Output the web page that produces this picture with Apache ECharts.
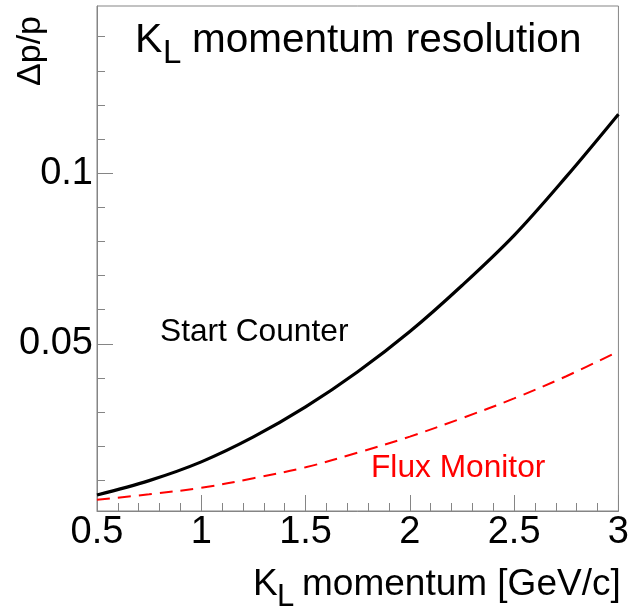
<!DOCTYPE html>
<html>
<head>
<meta charset="utf-8">
<title>KL momentum resolution</title>
<script src="https://cdn.jsdelivr.net/npm/echarts@6/dist/echarts.min.js"></script>
<style>
  html, body { margin: 0; padding: 0; background: #fff; }
  #chart { width: 632px; height: 614px; }
</style>
</head>
<body>
<div id="chart"></div>
<script>
// momentum points [GeV/c]
const momentum = [0.5, 0.75, 1, 1.25, 1.5, 1.75, 2, 2.25, 2.5, 2.75, 3];
// dp/p
const startCounter = [0.0057, 0.0099, 0.0154, 0.0227, 0.0315, 0.0418, 0.0536, 0.0671, 0.0818, 0.0990, 0.1173];
const fluxMonitor = [0.0043, 0.0059, 0.0078, 0.0106, 0.0138, 0.0181, 0.0228, 0.0282, 0.0340, 0.0405, 0.0478];

const yMajorTicks = [0.05, 0.1];
const yMinorTicks = [0.01, 0.02, 0.03, 0.04, 0.06, 0.07, 0.08, 0.09, 0.11, 0.12, 0.13, 0.14];

const FONT = 'Liberation Sans, Arial, Helvetica, sans-serif';
const AXIS_COLOR = '#858585';

const chartDom = document.getElementById('chart');
const chart = echarts.init(chartDom, null, {renderer: 'canvas'});

const pairs = (xs, ys) => xs.map((x, i) => [x, ys[i]]);

const option = {
  animation: false,
  backgroundColor: '#fff',
  grid: {
    left: 97,
    right: 10,
    top: 6,
    bottom: 103,
    show: true,
    borderColor: AXIS_COLOR,
    borderWidth: 1,
  },
  xAxis: {
    type: 'value',
    min: 0.5,
    max: 3,
    interval: 0.5,
    axisLine: {show: true, lineStyle: {color: AXIS_COLOR, width: 1}},
    axisTick: {show: true, inside: true, length: 16, lineStyle: {color: AXIS_COLOR}},
    minorTick: {show: true, splitNumber: 5, length: 8, lineStyle: {color: AXIS_COLOR}},
    splitLine: {show: false},
    axisLabel: {
      margin: 3,
      color: '#000',
      fontSize: 38,
      fontFamily: FONT,
      showMinLabel: true,
      showMaxLabel: true,
      hideOverlap: false,
    },
  },
  yAxis: [
    {
      type: 'value',
      min: 0.001,
      max: 0.149,
      axisLine: {show: true, lineStyle: {color: AXIS_COLOR, width: 1}},
      axisTick: {show: true, inside: true, length: 16, customValues: yMajorTicks, lineStyle: {color: AXIS_COLOR}},
      splitLine: {show: false},
      axisLabel: {
        customValues: yMajorTicks,
        margin: 4,
        color: '#000',
        fontSize: 38,
        fontFamily: FONT,
        formatter: (v) => String(+v.toFixed(3)),
      },
    },
    {
      type: 'value',
      min: 0.001,
      max: 0.149,
      position: 'left',
      axisLine: {show: false},
      axisTick: {show: true, inside: true, length: 8, customValues: yMinorTicks, lineStyle: {color: AXIS_COLOR}},
      axisLabel: {show: false},
      splitLine: {show: false},
    },
  ],
  series: [
    {
      name: 'Start Counter',
      type: 'line',
      smooth: 0.35,
      symbol: 'none',
      yAxisIndex: 0,
      lineStyle: {color: '#000', width: 3.2},
      data: pairs(momentum, startCounter),
    },
    {
      name: 'Flux Monitor',
      type: 'line',
      smooth: 0.35,
      symbol: 'none',
      yAxisIndex: 0,
      lineStyle: {color: '#ff0000', width: 2, type: [13, 8]},
      data: pairs(momentum, fluxMonitor),
    },
  ],
  graphic: [
    // title K_L momentum resolution
    {type: 'text', x: 135, y: 41, style: {text: 'K', font: '41px ' + FONT, fill: '#000', verticalAlign: 'middle'}},
    {type: 'text', x: 163, y: 54, style: {text: 'L', font: '33px ' + FONT, fill: '#000', verticalAlign: 'middle'}},
    {type: 'text', x: 192, y: 41, style: {text: 'momentum resolution', font: '40.5px ' + FONT, fill: '#000', verticalAlign: 'middle'}},
    // y title
    {type: 'text', x: 31, y: 51, rotation: Math.PI / 2,
      style: {text: 'Δp/p', font: '34px ' + FONT, fill: '#000', align: 'center', verticalAlign: 'middle'}},
    // x title K_L momentum [GeV/c]
    {type: 'text', x: 253, y: 585, style: {text: 'K', font: '37px ' + FONT, fill: '#000', verticalAlign: 'middle'}},
    {type: 'text', x: 277, y: 597, style: {text: 'L', font: '31px ' + FONT, fill: '#000', verticalAlign: 'middle'}},
    {type: 'text', x: 302, y: 585, style: {text: 'momentum [GeV/c]', font: '37px ' + FONT, fill: '#000', verticalAlign: 'middle'}},
    // curve labels
    {type: 'text', x: 160, y: 332, style: {text: 'Start Counter', font: '31.7px ' + FONT, fill: '#000', verticalAlign: 'middle'}},
    {type: 'text', x: 371, y: 468, style: {text: 'Flux Monitor', font: '31.7px ' + FONT, fill: '#ff0000', verticalAlign: 'middle'}},
  ],
};

chart.setOption(option);
window.addEventListener('resize', chart.resize);
</script>
</body>
</html>
